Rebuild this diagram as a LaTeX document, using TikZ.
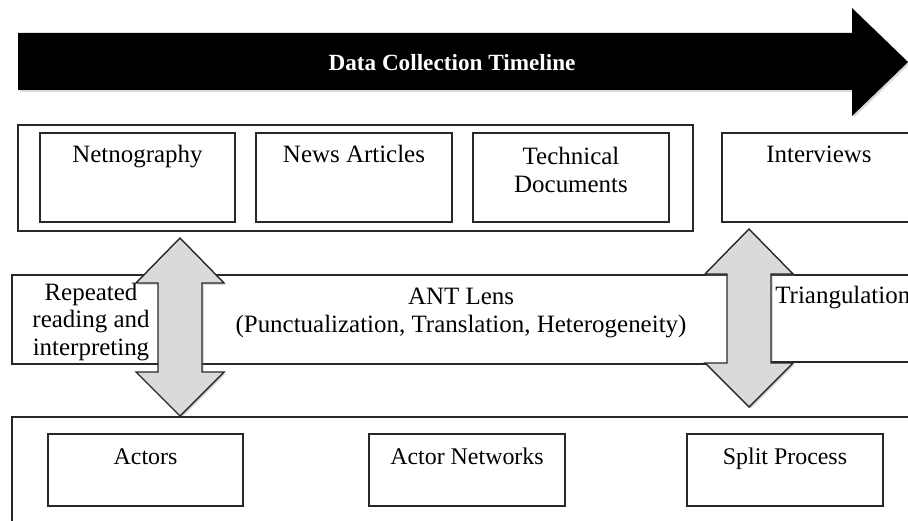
\documentclass[tikz,border=0pt]{standalone}
\usepackage{fontspec}
\setmainfont{Liberation Serif}
\usetikzlibrary{shadows}
\definecolor{arrowgray}{RGB}{218,218,218}
\definecolor{linegray}{RGB}{40,40,40}

\tikzset{
  box/.style={draw=linegray, line width=0.8pt},
  lbl/.style={font=\fontsize{14.2}{15.9}\selectfont, align=center, inner sep=0pt},
  botlbl/.style={font=\fontsize{13.6}{15.7}\selectfont, inner sep=0pt, anchor=base},
  dblarrow/.style={draw=linegray, fill=arrowgray, line width=0.8pt,
    drop shadow={opacity=0.3, shadow xshift=1pt, shadow yshift=-1pt}}
}

\begin{document}
\begin{tikzpicture}[x=0.02cm, y=-0.02cm]
\useasboundingbox (0,0) rectangle (908,520);
\clip (0,0) rectangle (908,520);

% TIMELINE ARROW
\fill[black, drop shadow={opacity=0.3, shadow xshift=1pt, shadow yshift=-1pt}]
  (18,33) -- (852,33) -- (852,8) -- (908,62) -- (852,116) -- (852,90) -- (18,90) -- cycle;
\node[lbl, anchor=base, text=white, font=\fontsize{13.2}{15}\selectfont\bfseries] (timeline) at (452,71) {Data Collection Timeline};

% DATA SOURCES (top row)
\draw[box] (18,125) rectangle (693,231);
\draw[box] (40,133) rectangle (235,222);
\node[lbl, anchor=base] (netno) at (137.5,163) {Netnography};
\draw[box] (256,133) rectangle (452,222);
\node[lbl, anchor=base] (news) at (354,163) {News Articles};
\draw[box] (473,133) rectangle (669,222);
\node[lbl] (techdoc) at (571,170) {Technical\\Documents};
\draw[box] (722,133) rectangle (930,222);
\node[lbl, anchor=base] (interv) at (819,163) {Interviews};

% ANALYSIS BAND
\draw[box] (12,275) rectangle (175,364);
\node[lbl] (reading) at (91,322) {Repeated\\reading and\\interpreting};
\draw[box] (185,275) rectangle (755,364);
\node[lbl] (antlens) at (461,313) {ANT Lens\\(Punctualization, Translation, Heterogeneity)};
\draw[box] (760,275) rectangle (930,362);
\node[lbl, anchor=base west] (triang) at (775,303) {Triangulation};

% DOUBLE ARROWS
\draw[dblarrow] (180,238) -- (224,283) -- (202,283) -- (202,372) -- (224,372) -- (180,416)
  -- (136,372) -- (158,372) -- (158,283) -- (136,283) -- cycle;
\draw[dblarrow] (749,229) -- (793,274) -- (771,274) -- (771,363) -- (793,363) -- (749,407)
  -- (705,363) -- (727,363) -- (727,274) -- (705,274) -- cycle;

% FINDINGS (bottom row)
\draw[box] (12,417) rectangle (930,540);
\draw[box] (48,434) rectangle (243,506);
\node[botlbl] (actors) at (145.5,464) {Actors};
\draw[box] (369,434) rectangle (565,506);
\node[botlbl] (actnet) at (467,464) {Actor Networks};
\draw[box] (687,434) rectangle (883,506);
\node[botlbl] (split) at (785,464) {Split Process};

\end{tikzpicture}
\end{document}
